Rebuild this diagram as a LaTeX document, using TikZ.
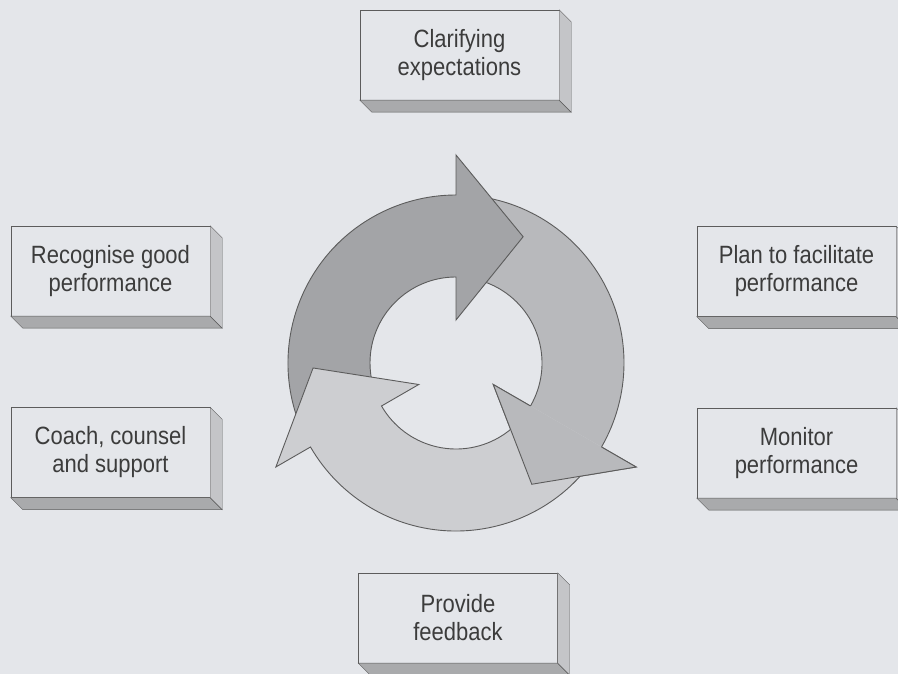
\documentclass[tikz,border=0pt]{standalone}
\usepackage{fontspec}
\setmainfont{Liberation Sans}[FakeStretch=0.88]
\usepackage{tikz}
\definecolor{paper}{HTML}{E4E6EA}
\definecolor{ink}{HTML}{3C3C3C}
\definecolor{edge}{HTML}{5C5C5C}
\definecolor{floorgray}{HTML}{A9AAAC}
\definecolor{sidegray}{HTML}{C4C5C8}
\definecolor{darkarc}{HTML}{A3A4A7}
\definecolor{midarc}{HTML}{B8B9BC}
\definecolor{lightarc}{HTML}{CDCED1}
\tikzstyle{stepbox} = [draw=edge, fill=paper, minimum width=199pt, minimum height=90pt, inner sep=0pt, align=center, text=ink, font=\fontsize{25}{28}\selectfont]
\tikzstyle{ring} = [draw=edge, line width=0.9pt, line join=miter]
% one curved arrow of the cycle: #1 = angle of the head's base, #2 = fill
\newcommand{\turnarrow}[2]{%
  \filldraw[fill=#2, ring] (#1+120:168pt) arc[start angle=#1+120, end angle=#1, radius=168pt]
    -- (#1:208pt) -- (#1-28:143pt) -- (#1:43pt) -- (#1:86pt)
    arc[start angle=#1, end angle=#1+120, radius=86pt];}

\begin{document}
\begin{tikzpicture}[x=1pt,y=1pt]
	\useasboundingbox (0,0) rectangle (898,674);
	\fill[paper] (0,0) rectangle (898,674);
	\clip (0,0) rectangle (898,674);
	% the six steps
	\node[stepbox] (clar) at (459.5,619) {Clarifying\\expectations};
	\node[stepbox] (recog) at (110.5,403) {Recognise good\\performance};
	\node[stepbox] (plan) at (796.5,402.5) {Plan to facilitate\\performance};
	\node[stepbox] (coach) at (110.5,221.5) {Coach, counsel\\and support};
	\node[stepbox] (mon) at (796.5,221) {Monitor\\performance};
	\node[stepbox] (feed) at (458,56) {Provide\\feedback};
	\foreach \b in {clar,recog,plan,coach,mon,feed} {
		\filldraw[fill=floorgray, draw=edge, thin] (\b.south west) -- (\b.south east)
			-- ([shift={(12,-12)}]\b.south east) -- ([shift={(12,-12)}]\b.south west) -- cycle;
		\filldraw[fill=sidegray, draw=edge, thin] (\b.north east) -- ([shift={(12,-12)}]\b.north east)
			-- ([shift={(12,-12)}]\b.south east) -- (\b.south east) -- cycle;
	}
	% the cycle
	\begin{scope}[shift={(456,311)}]
		\turnarrow{-30}{midarc}
		\turnarrow{90}{darkarc}
		\turnarrow{210}{lightarc}
		% head of the right arrow lies over the tail of the bottom one
		\filldraw[fill=midarc, ring] (-30:168pt) -- (-30:208pt) -- (-58:143pt) -- (-30:43pt) -- (-30:86pt);
	\end{scope}
\end{tikzpicture}
\end{document}
